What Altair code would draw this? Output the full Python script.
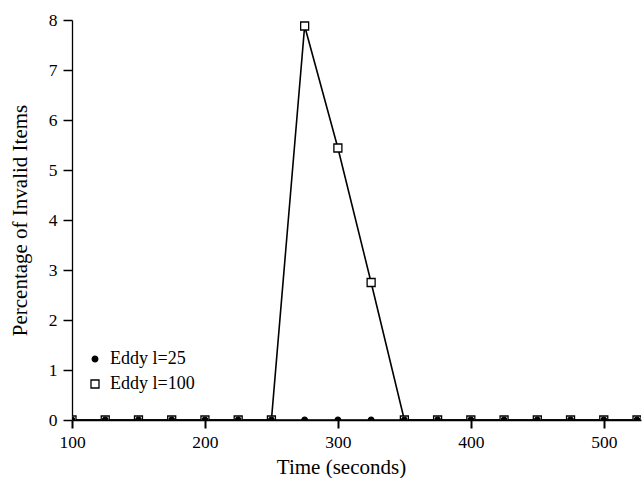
import altair as alt
import pandas as pd

times = [100, 125, 150, 175, 200, 225, 250, 275, 300, 325, 350, 375, 400, 425, 450, 475, 500, 525]
eddy25 = [0] * 18
eddy100 = [0, 0, 0, 0, 0, 0, 0, 7.88, 5.44, 2.75, 0, 0, 0, 0, 0, 0, 0, 0]
series = ["Eddy l=25", "Eddy l=100"]

rows = []
# squares first so the filled circles are drawn on top of them
for name, vals in zip(series[::-1], [eddy100, eddy25]):
    for t, v in zip(times, vals):
        rows.append({"time": t, "pct": v, "series": name})
df = pd.DataFrame(rows)

FONT = "Liberation Serif"

x = alt.X("time:Q", scale=alt.Scale(domain=[100, 528], nice=False, zero=False),
          axis=alt.Axis(values=[100, 200, 300, 400, 500], title="Time (seconds)",
                        titleX=269, titlePadding=6, tickSize=8, tickWidth=2,
                        tickColor="black", labelFlush=False, labelPadding=5))
y = alt.Y("pct:Q", scale=alt.Scale(domain=[0, 8], nice=False),
          axis=alt.Axis(values=list(range(0, 9)), title="Percentage of Invalid Items",
                        titlePadding=18, tickSize=9, labelPadding=6))

lines = alt.Chart(df).mark_line(color="black", strokeWidth=1.6, clip=True).encode(
    x=x, y=y, detail="series:N",
    order=alt.Order("time:Q"),
)

points = alt.Chart(df).mark_point(strokeWidth=1.3, opacity=1, clip=True).encode(
    x=x, y=y,
    shape=alt.Shape("series:N", sort=series,
                    scale=alt.Scale(domain=series, range=["circle", "square"]),
                    legend=alt.Legend(title=None)),
    fill=alt.Fill("series:N", sort=series,
                  scale=alt.Scale(domain=series, range=["black", "white"]),
                  legend=alt.Legend(title=None)),
    stroke=alt.Stroke("series:N", sort=series,
                      scale=alt.Scale(domain=series, range=["black", "black"]),
                      legend=alt.Legend(title=None)),
    size=alt.Size("series:N", sort=series,
                  scale=alt.Scale(domain=series, range=[32, 64]),
                  legend=alt.Legend(title=None)),
)

chart = (lines + points).properties(
    width=569, height=400,
    padding={"left": 72, "top": 20, "right": 1, "bottom": 58},
    autosize=alt.AutoSizeParams(type="none"),
).configure_view(stroke=None).configure_axis(
    domainColor="black", grid=False, tickColor="black", tickWidth=1.5, tickOpacity=1,
    labelFont=FONT, labelFontSize=17.5, labelColor="black",
    titleFont=FONT, titleFontSize=21, titleFontWeight="normal", titleColor="black",
    domainWidth=1.3,
).configure_legend(
    orient="none", legendX=14, legendY=330, padding=0,
    labelFont=FONT, labelFontSize=18, labelColor="black",
    rowPadding=7, symbolStrokeWidth=1.3,
    labelOffset=6,
)

chart.save("out.html", embed_options={"renderer": "svg", "actions": False})
